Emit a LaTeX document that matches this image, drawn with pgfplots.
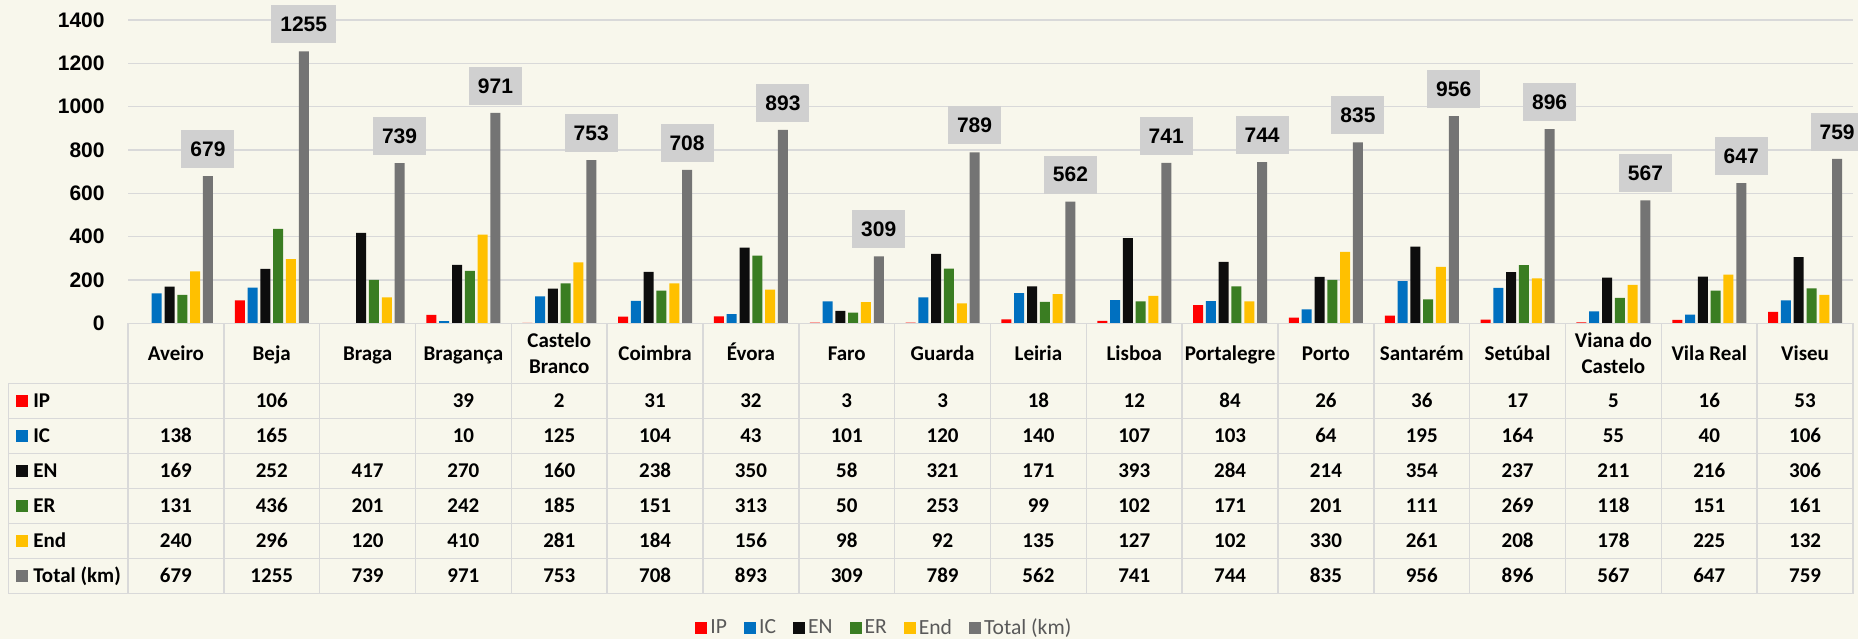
\documentclass[border=0pt]{standalone}
\usepackage{pgfplots}
\pgfplotsset{compat=1.18}
\usepackage{pgfplotstable}
\usepackage{fontspec}
\setmainfont{Liberation Sans}
\newfontfamily\carlito{Carlito}
\definecolor{bgc}{RGB}{248,247,236}
\definecolor{cIP}{RGB}{255,0,0}
\definecolor{cIC}{RGB}{0,112,192}
\definecolor{cEN}{RGB}{13,13,13}
\definecolor{cER}{RGB}{58,125,34}
\definecolor{cEnd}{RGB}{255,192,0}
\definecolor{cTot}{RGB}{116,116,116}
\definecolor{lblgray}{RGB}{208,208,208}
\definecolor{gridc}{RGB}{217,217,217}
\definecolor{lgtext}{RGB}{89,89,89}

\pgfplotstableread{
idx IP IC EN ER End Total
0 nan 138 169 131 240 679
1 106 165 252 436 296 1255
2 nan nan 417 201 120 739
3 39 10 270 242 410 971
4 2 125 160 185 281 753
5 31 104 238 151 184 708
6 32 43 350 313 156 893
7 3 101 58 50 98 309
8 3 120 321 253 92 789
9 18 140 171 99 135 562
10 12 107 393 102 127 741
11 84 103 284 171 102 744
12 26 64 214 201 330 835
13 36 195 354 111 261 956
14 17 164 237 269 208 896
15 5 55 211 118 178 567
16 16 40 216 151 225 647
17 53 106 306 161 132 759
}\roads

\pgfplotsset{
  /pgf/number format/1000 sep={},
  /pgf/number format/fixed,
  /pgf/number format/precision=0,
  /pgf/number format/assume math mode=true,
  sqlegend/.style={legend image code/.code={\fill[##1] (0pt,-3pt) rectangle (6pt,3pt);}},
  tabrow/.style={only marks, mark=text, text mark={},
    unbounded coords=discard,
    nodes near coords, point meta=explicit,
    every node near coord/.append style={font=\carlito\bfseries\fontsize{10.5}{12}\selectfont, anchor=base, yshift=-3.2pt, inner sep=0pt, text=black}},
}
\tikzset{
  tline/.style={draw=gridc, line width=0.7pt, line cap=rect},
  rowlbl/.style={anchor=base west, inner sep=0pt, yshift=-3.2pt, font=\carlito\bfseries\fontsize{10.5}{12}\selectfont},
}

\begin{document}
\begin{tikzpicture}
\fill[bgc] (0,0) rectangle (929pt,-319.5pt);
\begin{axis}[
  at={(64pt,-10pt)}, anchor=north west,
  scale only axis, width=862.5pt, height=151.67pt,
  xmin=-0.5, xmax=17.5, ymin=0, ymax=1400,
  ybar=1.4pt, bar width=5pt,
  axis line style={draw=none}, major tick length=0pt,
  ytick={0,200,...,1400},
  ymajorgrids, grid style={gridc, line width=0.7pt},
  xtick={0,...,17},
  xticklabels={Aveiro, Beja, Braga, Bragança,
    {\raisebox{6.5pt}{\begin{tabular}[t]{@{}c@{}}Castelo\\Branco\end{tabular}}},
    Coimbra, Évora, Faro, Guarda, Leiria, Lisboa, Portalegre, Porto, Santarém, Setúbal,
    {\raisebox{6.5pt}{\begin{tabular}[t]{@{}c@{}}Viana do\\Castelo\end{tabular}}},
    Vila Real, Viseu},
  xticklabel style={font=\carlito\bfseries\fontsize{10.5}{13}\selectfont, anchor=base, yshift=-18.35pt, inner sep=0pt},
  yticklabel style={font=\bfseries\fontsize{10.5}{12}\selectfont, anchor=east, inner sep=0pt, xshift=-11.5pt},
  scaled y ticks=false,
  clip=false,
  legend columns=-1,
  legend style={at={(0.4388,-1.0046)}, anchor=center, draw=none, fill=none,
    font=\carlito\fontsize{10.8}{12}\selectfont, text=lgtext,
    nodes={inner sep=1.5pt},
    /tikz/every even column/.append style={column sep=7pt}},
]
\addplot[fill=cIP, draw=none, sqlegend] table[x=idx,y=IP]{\roads};
\addplot[fill=cIC, draw=none, sqlegend] table[x=idx,y=IC]{\roads};
\addplot[fill=cEN, draw=none, sqlegend] table[x=idx,y=EN]{\roads};
\addplot[fill=cER, draw=none, sqlegend] table[x=idx,y=ER]{\roads};
\addplot[fill=cEnd, draw=none, sqlegend] table[x=idx,y=End]{\roads};
\addplot[fill=cTot, draw=none, sqlegend, nodes near coords,
  every node near coord/.append style={fill=lblgray, text=black,
    font=\bfseries\fontsize{10.5}{12}\selectfont, inner xsep=4.5pt, inner ysep=0pt,
    minimum height=19pt, yshift=3.8pt}] table[x=idx,y=Total]{\roads};
\legend{IP, IC, EN, ER, End, Total (km)}
\end{axis}

\begin{axis}[
  at={(64pt,-161.67pt)}, anchor=north west,
  scale only axis, width=862.5pt, height=135pt,
  xmin=-0.5, xmax=17.5, ymin=-270, ymax=0,
  hide axis, clip=false,
]
\pgfplotsinvokeforeach{-0.5,0.5,1.5,2.5,3.5,4.5,5.5,6.5,7.5,8.5,9.5,10.5,11.5,12.5,13.5,14.5,15.5,16.5,17.5}{
  \draw[tline] (axis cs:#1,0) -- (axis cs:#1,-270);
}
\draw[tline] (axis cs:-0.5,0) -- (axis cs:17.5,0);
\pgfplotsinvokeforeach{-60,-95,-130,-165,-200,-235,-270}{
  \draw[tline] (axis cs:-1.75,#1) -- (axis cs:17.5,#1);
}
\draw[tline] (axis cs:-1.75,-60) -- (axis cs:-1.75,-270);

\addplot[tabrow, restrict expr to domain={\thisrow{IP}}{-1:100000}] table[x=idx, y expr={\thisrow{IP}*0-77.5}, meta=IP]{\roads};
\addplot[tabrow, restrict expr to domain={\thisrow{IC}}{-1:100000}] table[x=idx, y expr={\thisrow{IC}*0-112.5}, meta=IC]{\roads};
\addplot[tabrow] table[x=idx, y expr={\thisrow{EN}*0-147.5}, meta=EN]{\roads};
\addplot[tabrow] table[x=idx, y expr={\thisrow{ER}*0-182.5}, meta=ER]{\roads};
\addplot[tabrow] table[x=idx, y expr={\thisrow{End}*0-217.5}, meta=End]{\roads};
\addplot[tabrow] table[x=idx, y expr={\thisrow{Total}*0-252.5}, meta=Total]{\roads};

\node[rowlbl] at (axis cs:-1.669,-77.5) {\textcolor{cIP}{\rule{6pt}{6pt}}\hspace{2.5pt}IP};
\node[rowlbl] at (axis cs:-1.669,-112.5) {\textcolor{cIC}{\rule{6pt}{6pt}}\hspace{2.5pt}IC};
\node[rowlbl] at (axis cs:-1.669,-147.5) {\textcolor{cEN}{\rule{6pt}{6pt}}\hspace{2.5pt}EN};
\node[rowlbl] at (axis cs:-1.669,-182.5) {\textcolor{cER}{\rule{6pt}{6pt}}\hspace{2.5pt}ER};
\node[rowlbl] at (axis cs:-1.669,-217.5) {\textcolor{cEnd}{\rule{6pt}{6pt}}\hspace{2.5pt}End};
\node[rowlbl] at (axis cs:-1.669,-252.5) {\textcolor{cTot}{\rule{6pt}{6pt}}\hspace{2.5pt}Total (km)};
\end{axis}
\pgfresetboundingbox
\useasboundingbox (0,0) rectangle (929pt,-319.5pt);
\end{tikzpicture}
\end{document}
